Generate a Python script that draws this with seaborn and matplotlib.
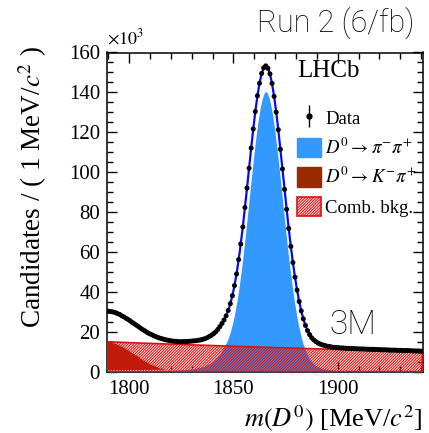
import numpy as np
import pandas as pd
import seaborn as sns
import matplotlib.pyplot as plt
from matplotlib.patches import Patch
from matplotlib.lines import Line2D
from matplotlib.ticker import MultipleLocator

# bin centres, 1 MeV bins
mass = np.arange(1789.5, 1941.0, 1.0)

# data, candidates per bin in units of 10^3
data = [
    30.5, 30.2, 30.1, 29.9, 29.6, 29.1, 28.7, 28.0, 27.5, 26.8,
    26.2, 25.5, 24.7, 24.0, 23.3, 22.6, 21.8, 21.1, 20.5, 19.8,
    19.2, 18.7, 18.2, 17.7, 17.3, 16.9, 16.6, 16.3, 16.0, 15.8,
    15.6, 15.4, 15.3, 15.2, 15.1, 15.0, 15.1, 15.1, 15.1, 15.2,
    15.3, 15.4, 15.5, 15.6, 15.8, 16.0, 16.3, 16.6, 17.1, 17.7,
    18.3, 19.1, 20.0, 21.2, 22.6, 24.2, 25.9, 28.0, 30.7, 34.1,
    38.1, 43.2, 49.0, 56.2, 64.0, 72.6, 82.3, 92.0, 102.0, 112.1,
    121.7, 130.4, 138.3, 144.6, 149.5, 152.3, 153.3, 152.1, 149.3, 144.5,
    138.0, 130.1, 121.3, 111.5, 101.6, 91.4, 81.4, 71.8, 62.8, 54.7,
    47.4, 40.9, 35.2, 30.5, 26.5, 23.2, 20.6, 18.6, 17.0, 15.9,
    15.1, 14.4, 13.9, 13.5, 13.2, 12.9, 12.7, 12.5, 12.3, 12.2,
    12.1, 12.0, 11.9, 11.9, 11.8, 11.7, 11.7, 11.6, 11.6, 11.5,
    11.5, 11.4, 11.4, 11.4, 11.3, 11.3, 11.2, 11.2, 11.2, 11.1,
    11.1, 11.0, 11.0, 11.0, 10.9, 10.9, 10.8, 10.8, 10.8, 10.7,
    10.7, 10.7, 10.6, 10.6, 10.6, 10.5, 10.5, 10.4, 10.4, 10.4,
    10.3, 10.3,
]

# D0 -> pi- pi+ signal component
signal = [
    0.60, 0.61, 0.62, 0.63, 0.64, 0.65, 0.66, 0.67, 0.68, 0.69,
    0.70, 0.71, 0.72, 0.73, 0.74, 0.75, 0.76, 0.77, 0.78, 0.79,
    0.80, 0.81, 0.82, 0.83, 0.85, 0.87, 0.89, 0.91, 0.93, 0.95,
    0.97, 1.00, 1.05, 1.10, 1.15, 1.20, 1.30, 1.40, 1.50, 1.60,
    1.75, 1.90, 2.05, 2.25, 2.45, 2.70, 3.00, 3.40, 3.90, 4.50,
    5.20, 6.00, 7.00, 8.20, 9.60, 11.2, 13.0, 15.2, 17.8, 21.2,
    25.4, 30.4, 36.4, 43.4, 51.4, 60.1, 69.6, 79.4, 89.6, 99.6,
    109.2, 118.1, 125.9, 132.3, 137.1, 140.0, 141.0, 140.0, 137.1, 132.3,
    125.9, 118.1, 109.2, 99.6, 89.6, 79.4, 69.5, 59.9, 51.0, 42.9,
    35.6, 29.1, 23.5, 18.8, 14.8, 11.6, 9.0, 7.0, 5.5, 4.4,
    3.6, 3.0, 2.5, 2.1, 1.8, 1.6, 1.4, 1.25, 1.12, 1.02,
    0.94, 0.88, 0.83, 0.79, 0.75, 0.72, 0.69, 0.67, 0.65, 0.63,
    0.61, 0.59, 0.58, 0.57, 0.56, 0.55, 0.54, 0.53, 0.52, 0.51,
    0.50, 0.49, 0.48, 0.47, 0.46, 0.45, 0.44, 0.43, 0.42, 0.41,
    0.40, 0.39, 0.38, 0.37, 0.36, 0.35, 0.34, 0.33, 0.32, 0.31,
    0.30, 0.29,
]

# D0 -> K- pi+ misidentified component
kpi = [
    14.8, 14.7, 14.6, 14.4, 14.1, 13.7, 13.2, 12.7, 12.1, 11.5,
    10.9, 10.2, 9.5, 8.8, 8.1, 7.4, 6.7, 6.0, 5.4, 4.8,
    4.2, 3.7, 3.2, 2.8, 2.4, 2.0, 1.7, 1.4, 1.15, 0.95,
    0.75, 0.6, 0.45, 0.35, 0.25, 0.2, 0.15, 0.1, 0.08, 0.06,
    0.04, 0.03, 0.02, 0.01,
] + [0.0] * 108

# combinatorial background
comb = [
    15.00, 14.96, 14.92, 14.88, 14.84, 14.80, 14.76, 14.72, 14.68, 14.64,
    14.60, 14.56, 14.52, 14.49, 14.45, 14.41, 14.37, 14.33, 14.30, 14.26,
    14.22, 14.18, 14.14, 14.11, 14.07, 14.03, 13.99, 13.95, 13.92, 13.88,
    13.84, 13.80, 13.77, 13.73, 13.69, 13.66, 13.62, 13.58, 13.54, 13.51,
    13.47, 13.44, 13.40, 13.37, 13.33, 13.30, 13.26, 13.23, 13.19, 13.16,
    13.12, 13.09, 13.05, 13.02, 12.98, 12.95, 12.91, 12.88, 12.84, 12.81,
    12.77, 12.74, 12.70, 12.67, 12.63, 12.60, 12.57, 12.53, 12.50, 12.46,
    12.43, 12.40, 12.36, 12.33, 12.30, 12.27, 12.23, 12.20, 12.17, 12.13,
    12.10, 12.07, 12.04, 12.00, 11.97, 11.94, 11.91, 11.88, 11.84, 11.81,
    11.78, 11.75, 11.72, 11.69, 11.66, 11.63, 11.59, 11.56, 11.53, 11.50,
    11.47, 11.44, 11.41, 11.38, 11.35, 11.32, 11.28, 11.25, 11.22, 11.19,
    11.16, 11.13, 11.10, 11.07, 11.04, 11.02, 10.99, 10.96, 10.93, 10.90,
    10.87, 10.84, 10.81, 10.78, 10.75, 10.73, 10.70, 10.67, 10.64, 10.61,
    10.58, 10.55, 10.52, 10.50, 10.47, 10.44, 10.41, 10.38, 10.36, 10.33,
    10.30, 10.27, 10.25, 10.22, 10.19, 10.17, 10.14, 10.11, 10.08, 10.06,
    10.03, 10.00,
]

BLUE = '#3399ff'
BROWN = '#992a00'
RED = '#dd1111'
LINE = '#0a0aee'
HATCH = '/' * 12

df = pd.DataFrame({'mass': mass, 'data': data, 'signal': signal,
                   'kpi': kpi, 'comb': comb})
df['total'] = df['signal'] + df['kpi'] + df['comb']

sns.set_style('ticks')
plt.rcParams['font.family'] = ['Liberation Serif', 'DejaVu Serif']
plt.rcParams['mathtext.fontset'] = 'stix'
plt.rcParams['hatch.linewidth'] = 0.8
for key in ['text.color', 'axes.labelcolor', 'xtick.color', 'ytick.color',
            'axes.edgecolor']:
    plt.rcParams[key] = 'black'

fig = plt.figure(figsize=(4.29, 4.33), dpi=100)
ax = fig.add_axes([107 / 429, 1 - 371.7 / 433, 316.3 / 429, 319.2 / 433])

ax.fill_between(df['mass'], 0, df['kpi'], color=BROWN, lw=0, zorder=1)
ax.fill_between(df['mass'], 0, df['signal'], facecolor=BLUE,
                edgecolor='white', lw=1.0, zorder=2)
ax.fill_between(df['mass'], 0, df['comb'], facecolor='none',
                edgecolor=RED, hatch=HATCH, lw=1.2, zorder=3)

sns.lineplot(data=df, x='mass', y='total', color=LINE, linewidth=1.6,
             ax=ax, zorder=4)
sns.scatterplot(data=df, x='mass', y='data', color='black', s=13,
                edgecolor='none', ax=ax, zorder=5)

ax.set_xlim(1789.4, 1941)
ax.set_ylim(0, 160)
ax.xaxis.set_major_locator(MultipleLocator(50))
ax.xaxis.set_minor_locator(MultipleLocator(10))
ax.yaxis.set_major_locator(MultipleLocator(20))
ax.yaxis.set_minor_locator(MultipleLocator(5))
ax.tick_params(which='both', direction='in', top=True, right=True,
               width=1.0, labelsize=15)
ax.tick_params(which='major', length=7)
ax.tick_params(which='minor', length=4)
ax.tick_params(axis='x', pad=6)
ax.tick_params(axis='y', pad=5)
for s in ax.spines.values():
    s.set_linewidth(1.1)
ax.set_xlabel('')
ax.set_ylabel('')

fig.text(33 / 429, 1 - 46 / 433, r'Candidates / ( 1 MeV/$c^2$ )',
         rotation=90, ha='center', va='top', fontsize=19.5)
fig.text(423 / 429, 1 - 426 / 433, r'$m(D^0)$ [MeV/$c^2$]',
         ha='right', va='baseline', fontsize=19)
fig.text(107 / 429, 1 - 44 / 433, r'$\times10^{3}$', ha='left',
         va='baseline', fontsize=13)
fig.text(414 / 429, 1 - 32 / 433, 'Run 2 (6/fb)', ha='right',
         va='baseline', fontsize=22, family='Roboto', fontweight='light')
fig.text(353 / 429, 1 - 325 / 433, '3M', ha='center', va='center',
         fontsize=24, family='Roboto', fontweight='light')
fig.text(297 / 429, 1 - 77 / 433, 'LHCb', ha='left', va='baseline',
         fontsize=18)

handles = [
    (Line2D([], [], marker='|', markersize=16, markeredgewidth=1.0,
            color='black', linestyle='none'),
     Line2D([], [], marker='o', markersize=3.5, color='black',
            linestyle='none')),
    Patch(facecolor=BLUE, edgecolor=BLUE),
    Patch(facecolor=BROWN, edgecolor=BROWN),
    Patch(facecolor='white', edgecolor=RED, hatch=HATCH, lw=1.2),
]
labels = ['Data', r'$D^0 \rightarrow \pi^{-}\pi^{+}$',
          r'$D^0 \rightarrow K^{-}\pi^{+}$', 'Comb. bkg.']
leg = ax.legend(handles, labels, loc='upper left',
                bbox_to_anchor=(297 / 429, 1 - 108 / 433),
                bbox_transform=fig.transFigure, frameon=False, fontsize=13.5,
                handlelength=1.3, handleheight=1.2, handletextpad=0.2,
                labelspacing=0.5, borderpad=0, borderaxespad=0)

fig.savefig('out.png', dpi=100)
